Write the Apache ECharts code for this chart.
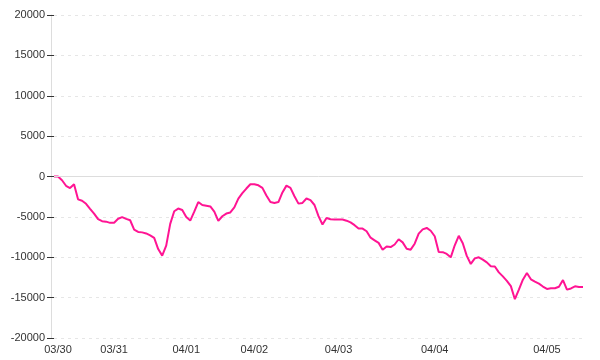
<!DOCTYPE html>
<html>
<head>
<meta charset="utf-8">
<script src="https://cdn.jsdelivr.net/npm/echarts@6/dist/echarts.min.js"></script>
<style>
html,body{margin:0;padding:0;background:#fff;}
#chart{width:600px;height:360px;}
</style>
</head>
<body>
<div id="chart"></div>
<script>
// per-point values
const values = [
  0, 0, -460, -1150, -1430, -955, -2830, -3000, -3385, -4000,
  -4590, -5280, -5530, -5590, -5740, -5720, -5235, -5035, -5250, -5420,
  -6580, -6870, -6920, -7050, -7280, -7600, -8990, -9800, -8560, -5870,
  -4300, -3970, -4140, -5020, -5460, -4350, -3160, -3530, -3620, -3710,
  -4350, -5500, -4920, -4590, -4450, -3830, -2730, -2070, -1490, -955,
  -955, -1090, -1410, -2360, -3170, -3270, -3170, -1980, -1130, -1410,
  -2440, -3360, -3270, -2730, -2930, -3530, -4910, -5950, -5130, -5290,
  -5330, -5330, -5330, -5470, -5690, -6030, -6450, -6450, -6780, -7580,
  -7900, -8220, -9060, -8660, -8740, -8420, -7770, -8160, -8950, -9060,
  -8320, -7070, -6550, -6370, -6720, -7400, -9360, -9370, -9590, -10010,
  -8520, -7350, -8260, -9830, -10830, -10140, -10010, -10290, -10630, -11120,
  -11150, -11870, -12370, -12920, -13580, -15200, -14000, -12780, -11950, -12730,
  -13020, -13270, -13630, -13920, -13850, -13840, -13650, -12820, -14010, -13860,
  -13600, -13690, -13690
];
// index of the point where each day's label sits, and the labels
const dayIndex = [1, 15, 33, 50, 71, 95, 123];
const dayLabels = ['03/30', '03/31', '04/01', '04/02', '04/03', '04/04', '04/05'];
// y axis ticks
const yMin = -20000, yMax = 20000, yStep = 5000;

const categories = values.map((v, i) => {
  const k = dayIndex.indexOf(i);
  return k >= 0 ? dayLabels[k] : '';
});

const chart = echarts.init(document.getElementById('chart'), null, {renderer: 'canvas'});
const font = {fontFamily: 'Liberation Sans', fontSize: 11, color: '#333'};
chart.setOption({
  animation: false,
  grid: {left: 54, right: 17, top: 15, bottom: 22},
  xAxis: {
    type: 'category',
    data: categories,
    boundaryGap: false,
    axisLine: {show: false, onZero: false},
    axisTick: {show: false},
    splitLine: {show: false},
    axisLabel: Object.assign({
      interval: (i) => dayIndex.indexOf(i) >= 0,
      margin: 6,
      hideOverlap: false
    }, font)
  },
  yAxis: [{
    type: 'value',
    min: yMin, max: yMax, interval: yStep,
    offset: 3,
    axisLine: {show: true, lineStyle: {color: '#ddd', width: 1}},
    axisTick: {show: true, length: 4, lineStyle: {color: '#333'}},
    axisLabel: Object.assign({margin: 6, formatter: (v) => String(v)}, font),
    splitLine: {show: true, lineStyle: {color: '#e6e6e6', type: [3, 4]}}
  }, {
    type: 'value',
    position: 'left',
    min: yMin, max: yMax, interval: yStep,
    offset: 3,
    axisLine: {show: false},
    axisTick: {show: true, inside: true, length: 3, lineStyle: {color: '#333'}},
    axisLabel: {show: false},
    splitLine: {show: false}
  }],
  series: [{
    type: 'line',
    data: values,
    yAxisIndex: 0,
    showSymbol: false,
    lineStyle: {color: '#ff1493', width: 2},
    itemStyle: {color: '#ff1493'},
    markLine: {
      silent: true,
      symbol: 'none',
      label: {show: false},
      lineStyle: {color: '#ddd', type: 'solid', width: 1},
      data: [{yAxis: 0}]
    }
  }]
});
</script>
</body>
</html>
